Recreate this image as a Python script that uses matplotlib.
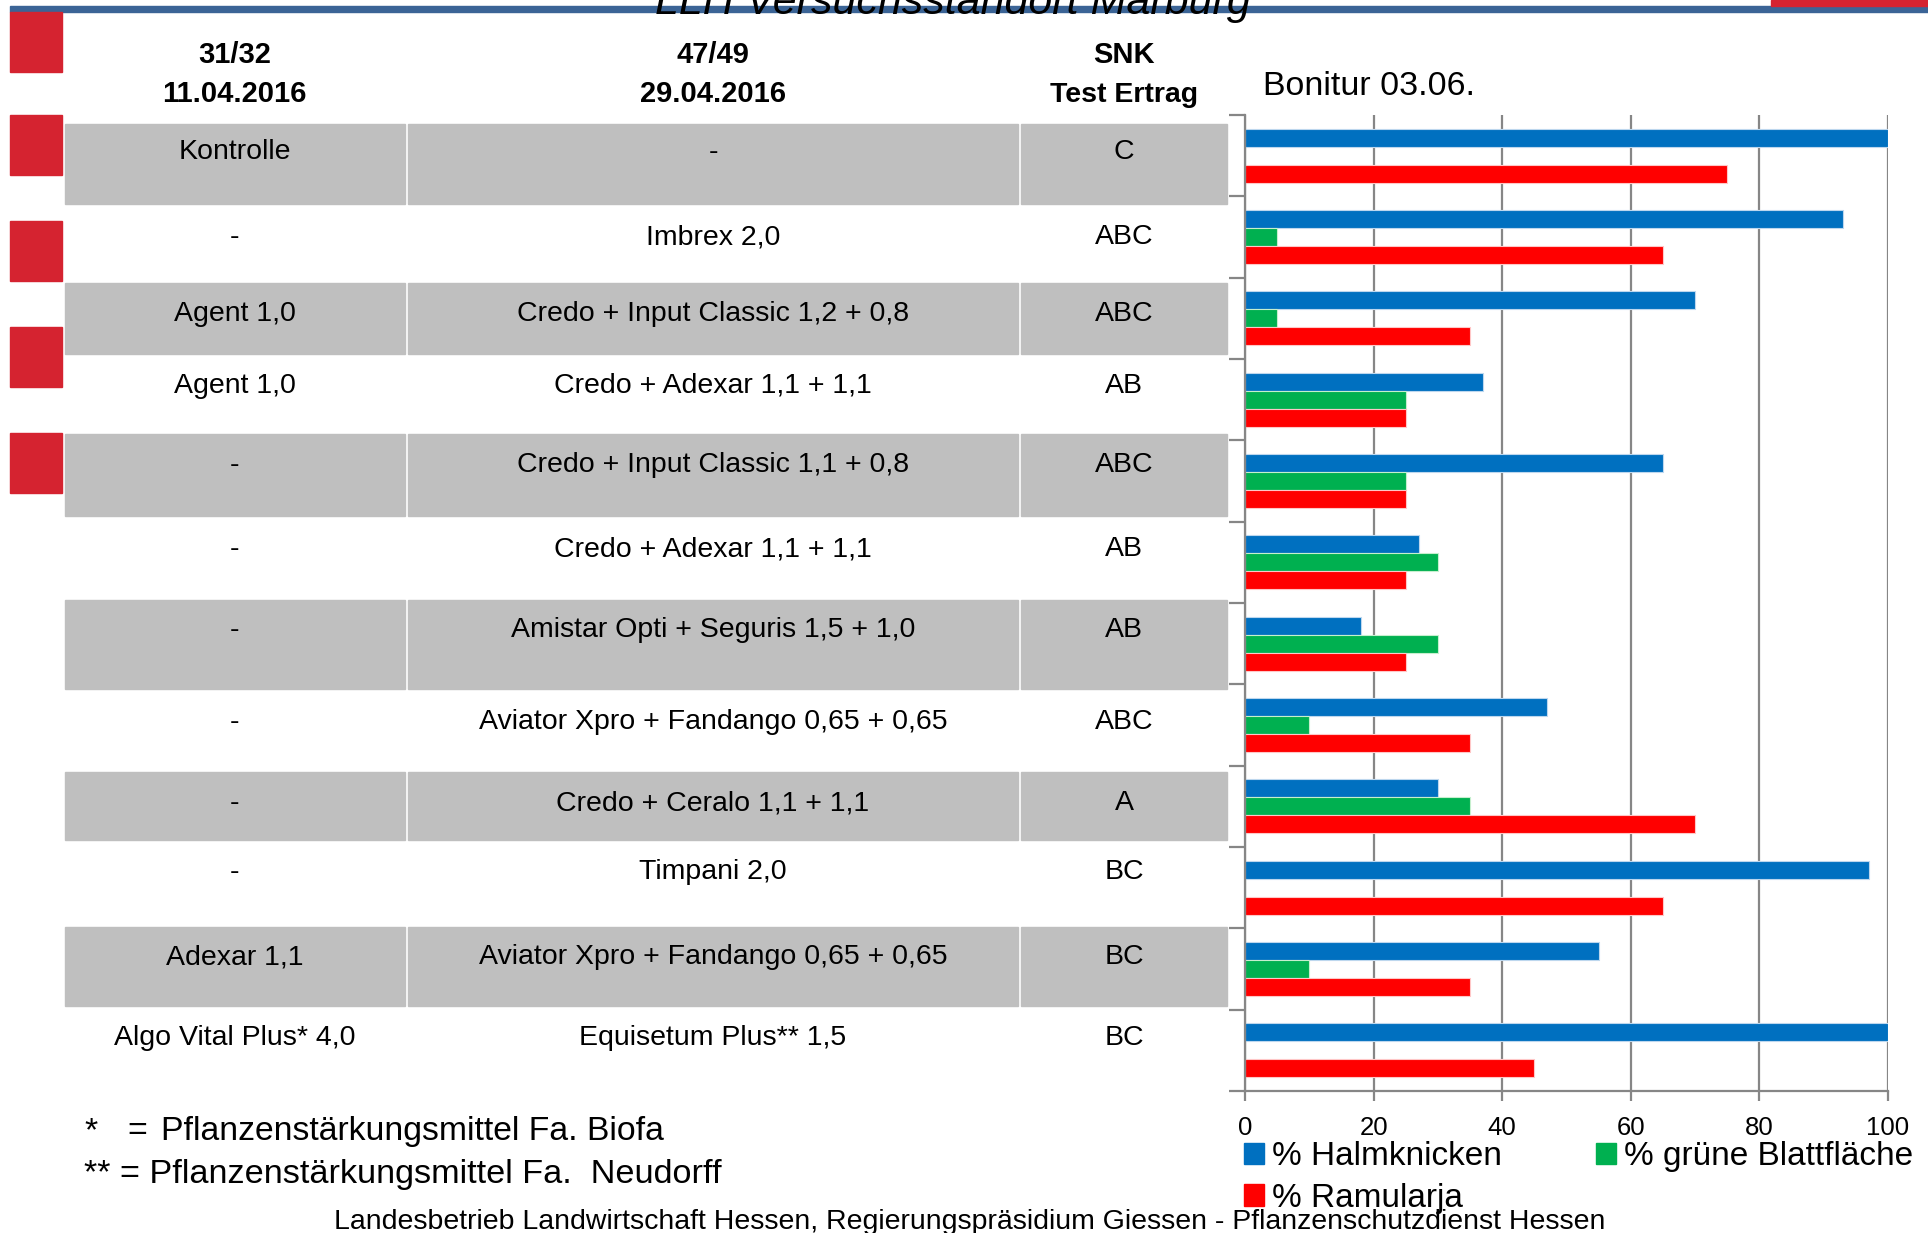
import matplotlib
matplotlib.use("Agg")
import matplotlib.pyplot as plt
from matplotlib.patches import Rectangle, Patch
import numpy as np

plt.rcParams['font.family'] = ['Liberation Sans', 'DejaVu Sans']

# table content (one entry per treatment, top to bottom)
termin1 = ['Kontrolle', '-', 'Agent 1,0', 'Agent 1,0', '-', '-', '-', '-', '-', '-',
           'Adexar 1,1', 'Algo Vital Plus* 4,0']
termin2 = ['-', 'Imbrex 2,0', 'Credo + Input Classic 1,2 + 0,8', 'Credo + Adexar 1,1 + 1,1',
           'Credo + Input Classic 1,1 + 0,8', 'Credo + Adexar 1,1 + 1,1',
           'Amistar Opti + Seguris 1,5 + 1,0', 'Aviator Xpro + Fandango 0,65 + 0,65',
           'Credo + Ceralo 1,1 + 1,1', 'Timpani 2,0', 'Aviator Xpro + Fandango 0,65 + 0,65',
           'Equisetum Plus** 1,5']
snk = ['C', 'ABC', 'ABC', 'AB', 'ABC', 'AB', 'AB', 'ABC', 'A', 'BC', 'BC', 'BC']
headers = [('31/32', '11.04.2016'), ('47/49', '29.04.2016'), ('SNK', 'Test Ertrag')]

# Bonitur 03.06. values in %
halmknicken = [100, 93, 70, 37, 65, 27, 18, 47, 30, 97, 55, 100]
gruene_blatt = [0, 5, 5, 25, 25, 30, 30, 10, 35, 0, 10, 0]
ramularia = [75, 65, 35, 25, 25, 25, 25, 35, 70, 65, 35, 45]

W, H = 1928, 1233
fig = plt.figure(figsize=(W / 100, H / 100), dpi=100)

# background layer in pixel coordinates for the slide / table
bg = fig.add_axes([0, 0, 1, 1])
bg.set_xlim(0, W)
bg.set_ylim(H, 0)
bg.axis('off')

# slide decoration
bg.add_patch(Rectangle((10, 5.5), W - 10, 6.5, color='#3b6496', zorder=1))
bg.add_patch(Rectangle((1771, 0), W - 1771, 5.5, color='#d52330', zorder=1))
for top in [12, 115, 221, 327, 433]:
    bg.add_patch(Rectangle((10, top), 52, 60, color='#d52330', zorder=1))
bg.text(953, 14, 'LLH Versuchsstandort Marburg', fontsize=31, style='italic',
        ha='center', va='baseline', zorder=3)

# table layout
col_edges = [(65, 404.5), (408, 1018), (1021, 1227)]
col_mid = [(a + b) / 2 for a, b in col_edges]
text_y = [150, 235, 312, 384, 463, 547, 628, 720, 801, 870, 955, 1036]
gray_rows = {0: (124, 204), 2: (283, 354), 4: (434, 516), 6: (600, 689),
             8: (772, 840), 10: (927, 1006)}

for i, (t, b) in gray_rows.items():
    for a, e in col_edges:
        bg.add_patch(Rectangle((a, t), e - a, b - t, color='#bfbfbf', zorder=1))

for i in range(len(termin1)):
    for j, val in enumerate([termin1[i], termin2[i], snk[i]]):
        bg.text(col_mid[j], text_y[i] + 9, val, fontsize=20.5, ha='center',
                va='baseline', zorder=3)

for j, (h1, h2) in enumerate(headers):
    bg.text(col_mid[j], 63, h1, fontsize=21, fontweight='bold', ha='center', va='baseline')
    bg.text(col_mid[j], 102, h2, fontsize=20.5 if j == 2 else 21, fontweight='bold',
            ha='center', va='baseline')

bg.text(1263, 95, 'Bonitur 03.06.', fontsize=24.5, ha='left', va='baseline')

# footnotes
bg.text(84, 1140, '*', fontsize=24.5, va='baseline')
bg.text(127, 1140, '=', fontsize=24.5, va='baseline')
bg.text(161, 1140, 'Pflanzenstärkungsmittel Fa. Biofa', fontsize=24.3, va='baseline')
bg.text(84, 1183, '** = Pflanzenstärkungsmittel Fa.  Neudorff', fontsize=24.7, va='baseline')
bg.text(970, 1229,
        'Landesbetrieb Landwirtschaft Hessen, Regierungspräsidium Giessen - Pflanzenschutzdienst Hessen',
        fontsize=20.5, ha='center', va='baseline', zorder=4)

# bar chart
ax = fig.add_axes([1245 / W, 1 - 1091 / H, (1888 - 1245) / W, (1091 - 115) / H])
n = len(halmknicken)
y = np.arange(n) + 0.5
bh = 0.221
blue, green, red = '#0070c0', '#00b050', '#ff0000'
ax.barh(y - bh, halmknicken, height=bh, color=blue, edgecolor='#bdd7ee', linewidth=0.8, zorder=2)
ax.barh(y, gruene_blatt, height=bh, color=green, edgecolor='#c6efce', linewidth=0.8, zorder=2)
ax.barh(y + bh, ramularia, height=bh, color=red, edgecolor='#ffc7c7', linewidth=0.8, zorder=2)

ax.set_xlim(0, 100)
ax.set_ylim(n, 0)
ax.set_xticks(range(0, 101, 20))
ax.set_yticks(np.arange(n + 1))
ax.set_yticklabels([])
ax.grid(axis='x', color='#868686', linewidth=1.6)
ax.set_axisbelow(True)
for s in ['top', 'right']:
    ax.spines[s].set_visible(False)
for s in ['left', 'bottom']:
    ax.spines[s].set_color('#868686')
    ax.spines[s].set_linewidth(1.6)
ax.tick_params(axis='y', length=11.5, width=1.6, color='#868686')
ax.tick_params(axis='x', length=7, width=1.6, color='#868686', labelsize=18.5, pad=11)

handles = [Patch(color=blue), Patch(color=red), Patch(color=green)]
labels = ['% Halmknicken', '% Ramularja', '% grüne Blattfläche']
fig.legend(handles, labels, ncol=2, loc='upper left',
           bbox_to_anchor=(1244 / W, 1 - 1141 / H), frameon=False, fontsize=24,
           handlelength=0.6, handleheight=0.6, handletextpad=0.25,
           columnspacing=2.8, labelspacing=0.32, borderpad=0, borderaxespad=0)

fig.savefig('out.png', dpi=100)
